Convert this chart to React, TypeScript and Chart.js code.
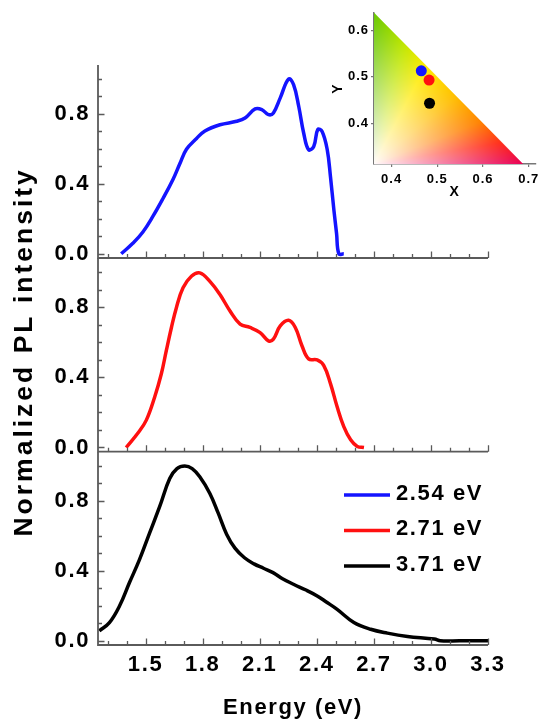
import React, { useEffect, useRef } from "react";
import { Chart, registerables } from "chart.js";

Chart.register(...registerables);

const FONT = "'Liberation Sans', Arial, sans-serif";

// ---- axis ticks ----
const X_MAJOR_TICKS = [1.5, 1.8, 2.1, 2.4, 2.7, 3.0, 3.3];
const X_MINOR_TICKS = [1.3, 1.4, 1.6, 1.7, 1.9, 2.0, 2.2, 2.3, 2.5, 2.6, 2.8, 2.9, 3.1, 3.2];
const Y_MAJOR_TICKS = [0.0, 0.4, 0.8];
const Y_MINOR_TICKS = [0.1, 0.2, 0.3, 0.5, 0.6, 0.7, 0.9, 1.0];

// ---- series ----
const SERIES_LABELS = ["2.54 eV", "2.71 eV", "3.71 eV"];
const SERIES_COLORS = ["#1414ff", "#ff1010", "#000000"];

const BLUE_X = [1.372, 1.433, 1.486, 1.539, 1.591, 1.644, 1.68, 1.715, 1.768, 1.812, 1.891, 1.979, 2.023, 2.076, 2.111, 2.146, 2.172, 2.208, 2.252, 2.278, 2.305, 2.331, 2.357, 2.384, 2.405, 2.428, 2.455, 2.472, 2.49, 2.504, 2.516, 2.542];
const BLUE_Y = [0.0, 0.06, 0.125, 0.215, 0.315, 0.425, 0.515, 0.598, 0.66, 0.703, 0.738, 0.758, 0.777, 0.829, 0.825, 0.796, 0.806, 0.892, 1.0, 0.968, 0.844, 0.691, 0.595, 0.614, 0.71, 0.7, 0.595, 0.441, 0.25, 0.116, 0.0, 0.0];

const RED_X = [1.398, 1.459, 1.504, 1.548, 1.583, 1.609, 1.636, 1.662, 1.697, 1.741, 1.785, 1.838, 1.891, 1.944, 1.997, 2.049, 2.102, 2.146, 2.172, 2.208, 2.252, 2.287, 2.322, 2.357, 2.402, 2.437, 2.472, 2.507, 2.542, 2.578, 2.613, 2.648];
const RED_Y = [0.0, 0.081, 0.156, 0.288, 0.42, 0.552, 0.684, 0.797, 0.91, 0.976, 0.995, 0.947, 0.872, 0.778, 0.703, 0.684, 0.655, 0.608, 0.618, 0.693, 0.725, 0.684, 0.58, 0.505, 0.499, 0.467, 0.364, 0.232, 0.119, 0.044, 0.006, 0.0];

const BLACK_X = [1.257, 1.31, 1.363, 1.415, 1.468, 1.521, 1.574, 1.627, 1.665, 1.706, 1.745, 1.785, 1.838, 1.882, 1.926, 1.97, 2.02, 2.07, 2.12, 2.17, 2.22, 2.28, 2.34, 2.4, 2.45, 2.507, 2.595, 2.683, 2.771, 2.877, 3.018, 3.05, 3.15, 3.3];
const BLACK_Y = [0.057, 0.104, 0.199, 0.332, 0.464, 0.616, 0.767, 0.928, 0.985, 1.0, 0.985, 0.938, 0.843, 0.73, 0.61, 0.53, 0.475, 0.44, 0.415, 0.39, 0.355, 0.322, 0.292, 0.258, 0.222, 0.18, 0.105, 0.066, 0.044, 0.025, 0.01, 0.0, 0.0, 0.0];

// ---- CIE inset ----
const CIE_X = [0.465, 0.482, 0.483];
const CIE_Y = [0.513, 0.493, 0.443];
const CIE_X_TICKS = [0.4, 0.5, 0.6, 0.7];
const CIE_Y_TICKS = [0.4, 0.5, 0.6];

const W = 543;
const H = 722;
const AXIS_COLOR = "#5a5a5a";

const toPoints = (xs: number[], ys: number[]) => xs.map((x, i) => ({ x, y: ys[i] }));

const panelAxesPlugin = {
  id: "panelAxes",
  afterDatasetsDraw(chart: any) {
    const { ctx, chartArea, scales } = chart;
    const { left, right, top, bottom } = chartArea;
    const x = scales.x;
    const y = scales.y;
    ctx.save();
    ctx.strokeStyle = AXIS_COLOR;
    ctx.lineWidth = 1.8;
    ctx.beginPath();
    ctx.moveTo(left, top);
    ctx.lineTo(left, bottom);
    ctx.lineTo(right, bottom);
    ctx.stroke();
    ctx.lineWidth = 1.3;
    ctx.beginPath();
    Y_MAJOR_TICKS.forEach((v) => {
      const p = Math.round(y.getPixelForValue(v)) + 0.5;
      ctx.moveTo(left, p);
      ctx.lineTo(left + 6.5, p);
    });
    Y_MINOR_TICKS.forEach((v) => {
      const p = Math.round(y.getPixelForValue(v)) + 0.5;
      ctx.moveTo(left, p);
      ctx.lineTo(left + 4, p);
    });
    X_MAJOR_TICKS.forEach((v) => {
      const p = Math.round(x.getPixelForValue(v)) + 0.5;
      ctx.moveTo(p, bottom);
      ctx.lineTo(p, bottom - 6.5);
    });
    X_MINOR_TICKS.forEach((v) => {
      const p = Math.round(x.getPixelForValue(v)) + 0.5;
      ctx.moveTo(p, bottom);
      ctx.lineTo(p, bottom - 4);
    });
    ctx.stroke();
    ctx.restore();
  },
};

const spacingPlugin = {
  id: "spacing",
  beforeDraw(chart: any, _args: any, opts: any) {
    chart.ctx.letterSpacing = (opts && opts.value) || "0px";
  },
  afterDraw(chart: any) {
    chart.ctx.letterSpacing = "0px";
  },
};

const yTitlePlugin = {
  id: "yTitle",
  afterDraw(chart: any) {
    const { ctx, chartArea } = chart;
    ctx.save();
    ctx.letterSpacing = "3px";
    ctx.translate(32, (chartArea.top + chartArea.bottom) / 2 - 3);
    ctx.rotate(-Math.PI / 2);
    ctx.font = `bold 26.5px ${FONT}`;
    ctx.fillStyle = "#000";
    ctx.textAlign = "center";
    ctx.textBaseline = "alphabetic";
    ctx.fillText("Normalized PL intensity", 0, 0);
    ctx.restore();
  },
};

const legendPlugin = {
  id: "customLegend",
  afterDraw(chart: any) {
    const { ctx, chartArea } = chart;
    const x0 = chartArea.right - 144;
    ctx.save();
    ctx.letterSpacing = "1.6px";
    ctx.font = `bold 22px ${FONT}`;
    ctx.textBaseline = "middle";
    ctx.textAlign = "left";
    SERIES_LABELS.forEach((label, i) => {
      const yy = chartArea.top + 41.5 + i * 35.5;
      ctx.strokeStyle = SERIES_COLORS[i];
      ctx.lineWidth = 3.5;
      ctx.beginPath();
      ctx.moveTo(x0, yy + 1.5);
      ctx.lineTo(x0 + 46, yy + 1.5);
      ctx.stroke();
      ctx.fillStyle = "#000";
      ctx.fillText(label, x0 + 52, yy);
    });
    ctx.restore();
  },
};

const HUE_STOPS: [number, number[]][] = [
  [0.0, [105, 200, 0]],
  [0.2, [190, 230, 0]],
  [0.35, [255, 235, 0]],
  [0.55, [255, 190, 0]],
  [0.72, [255, 130, 0]],
  [0.86, [255, 45, 25]],
  [1.0, [232, 0, 85]],
];

function hueAt(t: number) {
  for (let k = 1; k < HUE_STOPS.length; k++) {
    const [t1, c1] = HUE_STOPS[k];
    const [t0, c0] = HUE_STOPS[k - 1];
    if (t <= t1) {
      const f = (t - t0) / (t1 - t0);
      return [c0[0] + (c1[0] - c0[0]) * f, c0[1] + (c1[1] - c0[1]) * f, c0[2] + (c1[2] - c0[2]) * f];
    }
  }
  return HUE_STOPS[HUE_STOPS.length - 1][1];
}

const cieFillPlugin = {
  id: "cieFill",
  beforeDatasetsDraw(chart: any) {
    const { ctx, chartArea, scales } = chart;
    const sx = scales.x;
    const sy = scales.y;
    const x0 = sx.min;
    const y0 = sy.min;
    const L = 1 - x0 - y0;
    const left = Math.floor(chartArea.left);
    const top = Math.floor(chartArea.top);
    const w = Math.ceil(chartArea.right) - left;
    const h = Math.ceil(chartArea.bottom) - top;
    const off = document.createElement("canvas");
    off.width = w;
    off.height = h;
    const octx = off.getContext("2d") as CanvasRenderingContext2D;
    const img = octx.createImageData(w, h);
    const pxPerUnit = Math.abs(sx.getPixelForValue(1) - sx.getPixelForValue(0));
    for (let j = 0; j < h; j++) {
      const vy = sy.getValueForPixel(top + j + 0.5);
      for (let i = 0; i < w; i++) {
        const vx = sx.getValueForPixel(left + i + 0.5);
        const a = (vx - x0) / L;
        const b = (vy - y0) / L;
        const s = a + b;
        const distPx = ((1 - s) * L * pxPerUnit) / Math.SQRT2;
        const alpha = Math.max(0, Math.min(1, distPx + 0.5));
        if (alpha <= 0 || a < -0.01 || b < -0.01) continue;
        const ss = Math.max(0, Math.min(1, s));
        const t = ss > 0 ? Math.max(0, Math.min(1, a / s)) : 0.5;
        const c = hueAt(t);
        const m = Math.pow(ss, 0.95);
        const idx = (j * w + i) * 4;
        img.data[idx] = 255 * (1 - m) + c[0] * m;
        img.data[idx + 1] = 250 * (1 - m) + c[1] * m;
        img.data[idx + 2] = 252 * (1 - m) + c[2] * m;
        img.data[idx + 3] = 255 * alpha;
      }
    }
    octx.putImageData(img, 0, 0);
    ctx.drawImage(off, left, top);
  },
};

const Y_MIN = -0.024;
const Y_MAX = 1.08;
const X_MIN = 1.25;
const X_MAX = 3.3;

function panelConfig(index: number, xs: number[], ys: number[], top: number, bottom: number, last: boolean, extra: any[]) {
  const tickFont = { family: FONT, size: 22, weight: "bold" as const };
  return {
    type: "line" as const,
    data: {
      datasets: [
        {
          label: SERIES_LABELS[index],
          data: toPoints(xs, ys),
          borderColor: SERIES_COLORS[index],
          backgroundColor: SERIES_COLORS[index],
          borderWidth: 3.5,
          pointRadius: 0,
          tension: 0.4,
          fill: false,
        },
      ],
    },
    options: {
      responsive: false,
      animation: false as const,
      devicePixelRatio: 1,
      events: [],
      layout: {
        padding: { left: 0, right: W - 488, top, bottom: last ? 0 : H - bottom },
      },
      plugins: {
        legend: { display: false },
        tooltip: { enabled: false },
        spacing: { value: "1.6px" },
      },
      scales: {
        x: {
          type: "linear" as const,
          min: X_MIN,
          max: X_MAX,
          afterBuildTicks: (s: any) => {
            s.ticks = X_MAJOR_TICKS.map((v) => ({ value: v }));
          },
          afterFit: (s: any) => {
            s.height = last ? H - bottom : 0;
          },
          grid: { display: false, drawTicks: false },
          border: { display: false },
          ticks: {
            display: last,
            padding: 7,
            color: "#000",
            font: tickFont,
            maxRotation: 0,
            autoSkip: false,
            callback: (v: any) => Number(v).toFixed(1),
          },
          title: {
            display: last,
            text: "Energy (eV)",
            color: "#000",
            font: tickFont,
            padding: { top: 0, bottom: 1 },
          },
        },
        y: {
          type: "linear" as const,
          min: Y_MIN,
          max: Y_MAX,
          afterBuildTicks: (s: any) => {
            s.ticks = Y_MAJOR_TICKS.map((v) => ({ value: v }));
          },
          afterFit: (s: any) => {
            s.width = 98;
          },
          grid: { display: false, drawTicks: false },
          border: { display: false },
          ticks: {
            padding: 8,
            color: "#000",
            font: tickFont,
            callback: (v: any) => Number(v).toFixed(1),
          },
        },
      },
    },
    plugins: [spacingPlugin, panelAxesPlugin, ...extra],
  };
}

function insetConfig() {
  const f = { family: FONT, size: 13, weight: "bold" as const };
  return {
    type: "scatter" as const,
    data: {
      datasets: [
        {
          data: toPoints(CIE_X, CIE_Y),
          backgroundColor: SERIES_COLORS,
          borderWidth: 0,
          pointRadius: 5.5,
        },
      ],
    },
    options: {
      responsive: false,
      animation: false as const,
      devicePixelRatio: 1,
      events: [],
      layout: { padding: { left: 330, right: 6, top: 13, bottom: H - 164 - 36.4 } },
      plugins: {
        legend: { display: false },
        tooltip: { enabled: false },
        spacing: { value: "1px" },
      },
      scales: {
        x: {
          type: "linear" as const,
          min: 0.3615,
          max: 0.715,
          afterBuildTicks: (s: any) => {
            s.ticks = CIE_X_TICKS.map((v) => ({ value: v }));
          },
          afterFit: (s: any) => {
            s.height = 36.4;
          },
          grid: { display: true, drawOnChartArea: false, drawTicks: true, tickLength: 3, color: "#777", lineWidth: 1.2 },
          border: { display: true, color: "#777", width: 1.5 },
          ticks: { padding: 5, color: "#000", font: f, maxRotation: 0, autoSkip: false, callback: (v: any) => Number(v).toFixed(1) },
          title: { display: true, text: "X", color: "#000", font: { family: FONT, size: 14, weight: "bold" as const }, padding: 0 },
        },
        y: {
          type: "linear" as const,
          min: 0.312,
          max: 0.6376,
          afterBuildTicks: (s: any) => {
            s.ticks = CIE_Y_TICKS.map((v) => ({ value: v }));
          },
          afterFit: (s: any) => {
            s.width = 44;
          },
          grid: { display: true, drawOnChartArea: false, drawTicks: true, tickLength: 3, color: "#777", lineWidth: 1.2 },
          border: { display: true, color: "#777", width: 1.5 },
          ticks: { padding: 2, color: "#000", font: f, callback: (v: any) => Number(v).toFixed(1) },
          title: { display: true, text: "Y", color: "#000", font: { family: FONT, size: 14, weight: "bold" as const }, padding: 0 },
        },
      },
    },
    plugins: [spacingPlugin, cieFillPlugin],
  };
}

function ChartCanvas({ makeConfig }: { makeConfig: () => any }) {
  const ref = useRef<HTMLCanvasElement | null>(null);
  useEffect(() => {
    if (!ref.current) return;
    const chart = new Chart(ref.current, makeConfig());
    return () => chart.destroy();
  }, []);
  return (
    <canvas
      ref={ref}
      width={W}
      height={H}
      style={{ position: "absolute", left: 0, top: 0, width: W, height: H }}
    />
  );
}

export default function App() {
  return (
    <div style={{ position: "absolute", left: 0, top: 0, width: W, height: H, background: "#fff", overflow: "hidden" }}>
      <ChartCanvas makeConfig={() => panelConfig(0, BLUE_X, BLUE_Y, 65, 258, false, [])} />
      <ChartCanvas makeConfig={() => panelConfig(1, RED_X, RED_Y, 258, 451.7, false, [yTitlePlugin])} />
      <ChartCanvas makeConfig={() => panelConfig(2, BLACK_X, BLACK_Y, 452, 645, true, [legendPlugin])} />
      <ChartCanvas makeConfig={insetConfig} />
    </div>
  );
}
